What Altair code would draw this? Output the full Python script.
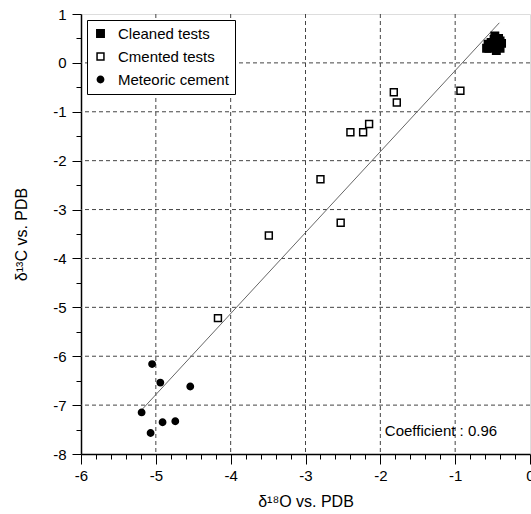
import altair as alt
import pandas as pd

# ---- data ----
cleaned_x = [-0.55, -0.50, -0.45, -0.42, -0.48, -0.40, -0.45, -0.52, -0.38, -0.58, -0.44, -0.47, -0.56, -0.40]
cleaned_y = [0.30, 0.35, 0.40, 0.50, 0.48, 0.30, 0.25, 0.42, 0.40, 0.30, 0.33, 0.55, 0.38, 0.45]

cemented_x = [-1.82, -1.78, -0.93, -2.15, -2.40, -2.23, -2.80, -2.53, -3.49, -4.17]
cemented_y = [-0.60, -0.81, -0.57, -1.25, -1.42, -1.42, -2.38, -3.27, -3.53, -5.22]

meteoric_x = [-5.05, -4.94, -4.54, -5.19, -4.91, -4.74, -5.07]
meteoric_y = [-6.16, -6.54, -6.62, -7.15, -7.35, -7.33, -7.57]

fit_x = [-5.19, -0.41]
fit_y = [-7.10, 0.82]

categories = ["Cleaned tests", "Cmented tests", "Meteoric cement"]
annotation = "Coefficient : 0.96"
annot_x = [-1.94]
annot_y = [-7.53]

x_ticks = [round(-6 + 0.2 * i, 1) for i in range(31)]
y_ticks = [round(-8 + 0.5 * i, 1) for i in range(19)]
x_grid = [-5, -4, -3, -2, -1]
y_grid = [-7, -6, -5, -4, -3, -2, -1, 0]

rows = []
for xs, ys, cat in [(cleaned_x, cleaned_y, categories[0]),
                    (cemented_x, cemented_y, categories[1]),
                    (meteoric_x, meteoric_y, categories[2])]:
    for a, b in zip(xs, ys):
        rows.append({"x": a, "y": b, "type": cat})
df = pd.DataFrame(rows)
fit_df = pd.DataFrame({"x": fit_x, "y": fit_y})
ann_df = pd.DataFrame({"x": annot_x, "y": annot_y, "t": [annotation]})
xg_df = pd.DataFrame({"x": x_grid})
yg_df = pd.DataFrame({"y": y_grid})

FONT = "Liberation Sans"
is_major = "abs(datum.value - round(datum.value)) < 0.001"

x_scale = alt.Scale(domain=[-6, 0], nice=False, zero=False)
y_scale = alt.Scale(domain=[-8, 1], nice=False, zero=False)

common = dict(
    tickCount=40,
    labelExpr=f"{is_major} ? '' + round(datum.value) : ''",
    grid=False,
    tickColor="black", tickWidth=1, domainColor="black", domainWidth=1.5,
    labelFont=FONT, labelFontSize=15, labelColor="black",
    labelFlush=False, labelOverlap=False, labelBound=False,
    titleFont=FONT, titleFontSize=16, titleFontWeight="normal", titleColor="black",
)

x_axis = alt.Axis(
    values=x_ticks,
    title="δ¹⁸O vs. PDB",
    tickSize={"condition": {"test": is_major, "value": 10}, "value": 5},
    labelPadding=4, titlePadding=10,
    **common,
)
y_axis = alt.Axis(
    values=y_ticks,
    title="δ¹³C vs. PDB",
    tickSize={"condition": {"test": is_major, "value": 9}, "value": 5},
    labelPadding=6, titlePadding=23,
    **common,
)

legend = alt.Legend(
    title=None, orient="top-left", offset=6, padding=6,
    strokeColor="black", fillColor="white",
    labelFont=FONT, labelFontSize=15, labelColor="black", labelOffset=10,
    rowPadding=7, symbolStrokeColor="black", symbolStrokeWidth=1.5,
)

grid_style = dict(color="#444", strokeWidth=1, strokeDash=[4, 3])
xgrid = alt.Chart(xg_df).mark_rule(**grid_style).encode(x=alt.X("x:Q", scale=x_scale))
ygrid = alt.Chart(yg_df).mark_rule(**grid_style).encode(y=alt.Y("y:Q", scale=y_scale))

points = alt.Chart(df).mark_point(
    strokeWidth=1.5, opacity=1, fillOpacity=1, strokeOpacity=1
).encode(
    x=alt.X("x:Q", scale=x_scale, axis=x_axis),
    y=alt.Y("y:Q", scale=y_scale, axis=y_axis),
    shape=alt.Shape("type:N", scale=alt.Scale(domain=categories, range=["square", "square", "circle"]), legend=legend),
    fill=alt.Fill("type:N", scale=alt.Scale(domain=categories, range=["black", "white", "black"]), legend=legend),
    stroke=alt.Stroke("type:N", scale=alt.Scale(domain=categories, range=["black", "black", "black"]), legend=legend),
    size=alt.Size("type:N", scale=alt.Scale(domain=categories, range=[55, 40, 85]), legend=legend),
)

fit = alt.Chart(fit_df).mark_line(color="#666", strokeWidth=1).encode(
    x=alt.X("x:Q", scale=x_scale),
    y=alt.Y("y:Q", scale=y_scale),
)

ann = alt.Chart(ann_df).mark_text(
    align="left", baseline="middle", font=FONT, fontSize=15, color="black"
).encode(
    x=alt.X("x:Q", scale=x_scale),
    y=alt.Y("y:Q", scale=y_scale),
    text="t:N",
)

chart = alt.layer(xgrid, ygrid, fit, points, ann).properties(
    width=449, height=440,
    autosize=alt.AutoSizeParams(type="none"),
    padding={"left": 81, "top": 14, "right": 1, "bottom": 60},
).configure_view(
    stroke="black", strokeWidth=1.5
).configure(background="white")

chart.save("out.html", embed_options={"renderer": "svg", "actions": False})
